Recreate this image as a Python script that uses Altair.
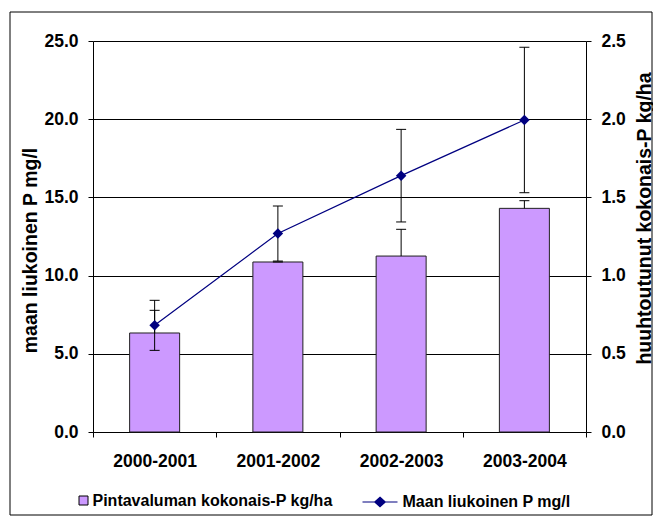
import altair as alt
import pandas as pd

periods = ["2000-2001", "2001-2002", "2002-2003", "2003-2004"]
bar_vals = [0.633, 1.087, 1.125, 1.43]
bar_err = [0.145, 0.0, 0.171, 0.049]
line_vals = [6.82, 12.69, 16.39, 19.95]
line_err = [1.60, 1.76, 2.96, 4.65]
bar_name = "Pintavaluman kokonais-P kg/ha"
line_name = "Maan liukoinen P mg/l"

df = pd.DataFrame({
    "period": periods,
    "bar": bar_vals,
    "bar_hi": [v + e for v, e in zip(bar_vals, bar_err)],
    "line": line_vals,
    "line_lo": [v - e for v, e in zip(line_vals, line_err)],
    "line_hi": [v + e for v, e in zip(line_vals, line_err)],
    "bar_series": [bar_name] * 4,
    "line_series": [line_name] * 4,
})

FONT = "Liberation Sans"
TICK_FS = 17.5
TITLE_FS = 19.5
LEG_FS = 16

xaxis = alt.Axis(title=None, labelFont=FONT, labelFontSize=TICK_FS, labelFontWeight="bold",
                 labelColor="black", domainColor="black", tickColor="black", tickSize=5,
                 labelPadding=15, tickBand="extent", labelAngle=0, grid=False)
leftaxis = alt.Axis(orient="left", title="maan liukoinen P mg/l", values=[0, 5, 10, 15, 20, 25],
                    format=".1f", labelFont=FONT, labelFontSize=TICK_FS, labelFontWeight="bold",
                    labelColor="black", domainColor="black", tickColor="black", tickSize=5,
                    labelPadding=10, grid=True, gridColor="black", gridOpacity=1,
                    titleFont=FONT, titleFontSize=TITLE_FS, titleFontWeight="bold",
                    titleColor="black", titleX=-53, titleY=209)
rightaxis = alt.Axis(orient="right", title="huuhtoutunut kokonais-P kg/ha",
                     values=[0, 0.5, 1.0, 1.5, 2.0, 2.5], format=".1f", labelFont=FONT,
                     labelFontSize=TICK_FS, labelFontWeight="bold", labelColor="black",
                     domainColor="black", tickColor="black", tickSize=5, labelPadding=10,
                     grid=False, titleFont=FONT, titleFontSize=TITLE_FS, titleFontWeight="bold",
                     titleColor="black", titleAngle=270, titleBaseline="bottom",
                     titleX=68, titleY=177)

x = alt.X("period:N", sort=periods, scale=alt.Scale(paddingInner=0, paddingOuter=0), axis=xaxis)
rscale = alt.Scale(domain=[0, 2.5])
lscale = alt.Scale(domain=[0, 25])

base = alt.Chart(df)

leg1 = alt.Legend(orient="none", legendX=-17.5, legendY=451.5, title=None, symbolType="square",
                  symbolSize=81, symbolStrokeColor="black", symbolStrokeWidth=1,
                  symbolOpacity=1, labelFont=FONT, labelFontSize=LEG_FS, labelFontWeight="bold",
                  labelColor="black", labelOffset=1, labelLimit=0, padding=0,
                  direction="horizontal")
leg2 = alt.Legend(orient="none", legendX=268.5, legendY=442.5, title=None,
                  symbolType="M-1,0L1,0M0,-0.27L0.3,0L0,0.27L-0.3,0Z", symbolSize=1225,
                  symbolFillColor="#000080", symbolStrokeColor="#000080", symbolStrokeWidth=1.2,
                  symbolOpacity=1, labelFont=FONT, labelFontSize=LEG_FS, labelFontWeight="bold",
                  labelColor="black", labelOffset=4, labelLimit=0, padding=0,
                  direction="horizontal")

bars = base.mark_bar(size=50, stroke="#202020", strokeWidth=1).encode(
    x=x, y=alt.Y("bar:Q", scale=rscale, axis=rightaxis),
    fill=alt.Fill("bar_series:N", scale=alt.Scale(range=["#CC99FF"]), legend=leg1))
bar_rule = base.mark_rule(color="black", strokeWidth=1).encode(
    x=x, y=alt.Y("bar:Q", scale=rscale, axis=rightaxis), y2="bar_hi:Q")
bar_cap = base.mark_tick(color="black", size=10, thickness=1, opacity=1).encode(
    x=x, y=alt.Y("bar_hi:Q", scale=rscale, axis=rightaxis))
bar_group = alt.layer(bars, bar_rule, bar_cap)

line_rule = base.mark_rule(color="black", strokeWidth=1).encode(
    x=x, y=alt.Y("line_lo:Q", scale=lscale, axis=leftaxis), y2="line_hi:Q")
cap_lo = base.mark_tick(color="black", size=10, thickness=1, opacity=1).encode(
    x=x, y=alt.Y("line_lo:Q", scale=lscale, axis=leftaxis))
cap_hi = base.mark_tick(color="black", size=10, thickness=1, opacity=1).encode(
    x=x, y=alt.Y("line_hi:Q", scale=lscale, axis=leftaxis))
line = base.mark_line(color="#000080", strokeWidth=1.2).encode(
    x=x, y=alt.Y("line:Q", scale=lscale, axis=leftaxis))
pts = base.mark_point(shape="diamond", filled=True, size=110, opacity=1).encode(
    x=x, y=alt.Y("line:Q", scale=lscale, axis=leftaxis),
    color=alt.Color("line_series:N", scale=alt.Scale(range=["#000080"]), legend=leg2))
line_group = alt.layer(line_rule, cap_lo, cap_hi, line, pts)

border = alt.Chart(alt.Data(values=[{"a": 1}])).mark_rect(
    fill=None, stroke="black", strokeWidth=1, clip=False).encode(
    x=alt.value(-83), x2=alt.value(559), y=alt.value(-29), y2=alt.value(474))

chart = alt.layer(bar_group, line_group, border).resolve_scale(
    y="independent", color="independent", fill="independent"
).properties(
    width=493, height=391,
    autosize=alt.AutoSizeParams(type="none"),
    padding={"left": 85, "top": 33, "right": 67, "bottom": 84},
    background="white",
).configure_view(stroke=None)

chart.save("out.html", embed_options={"renderer": "svg", "actions": False})
